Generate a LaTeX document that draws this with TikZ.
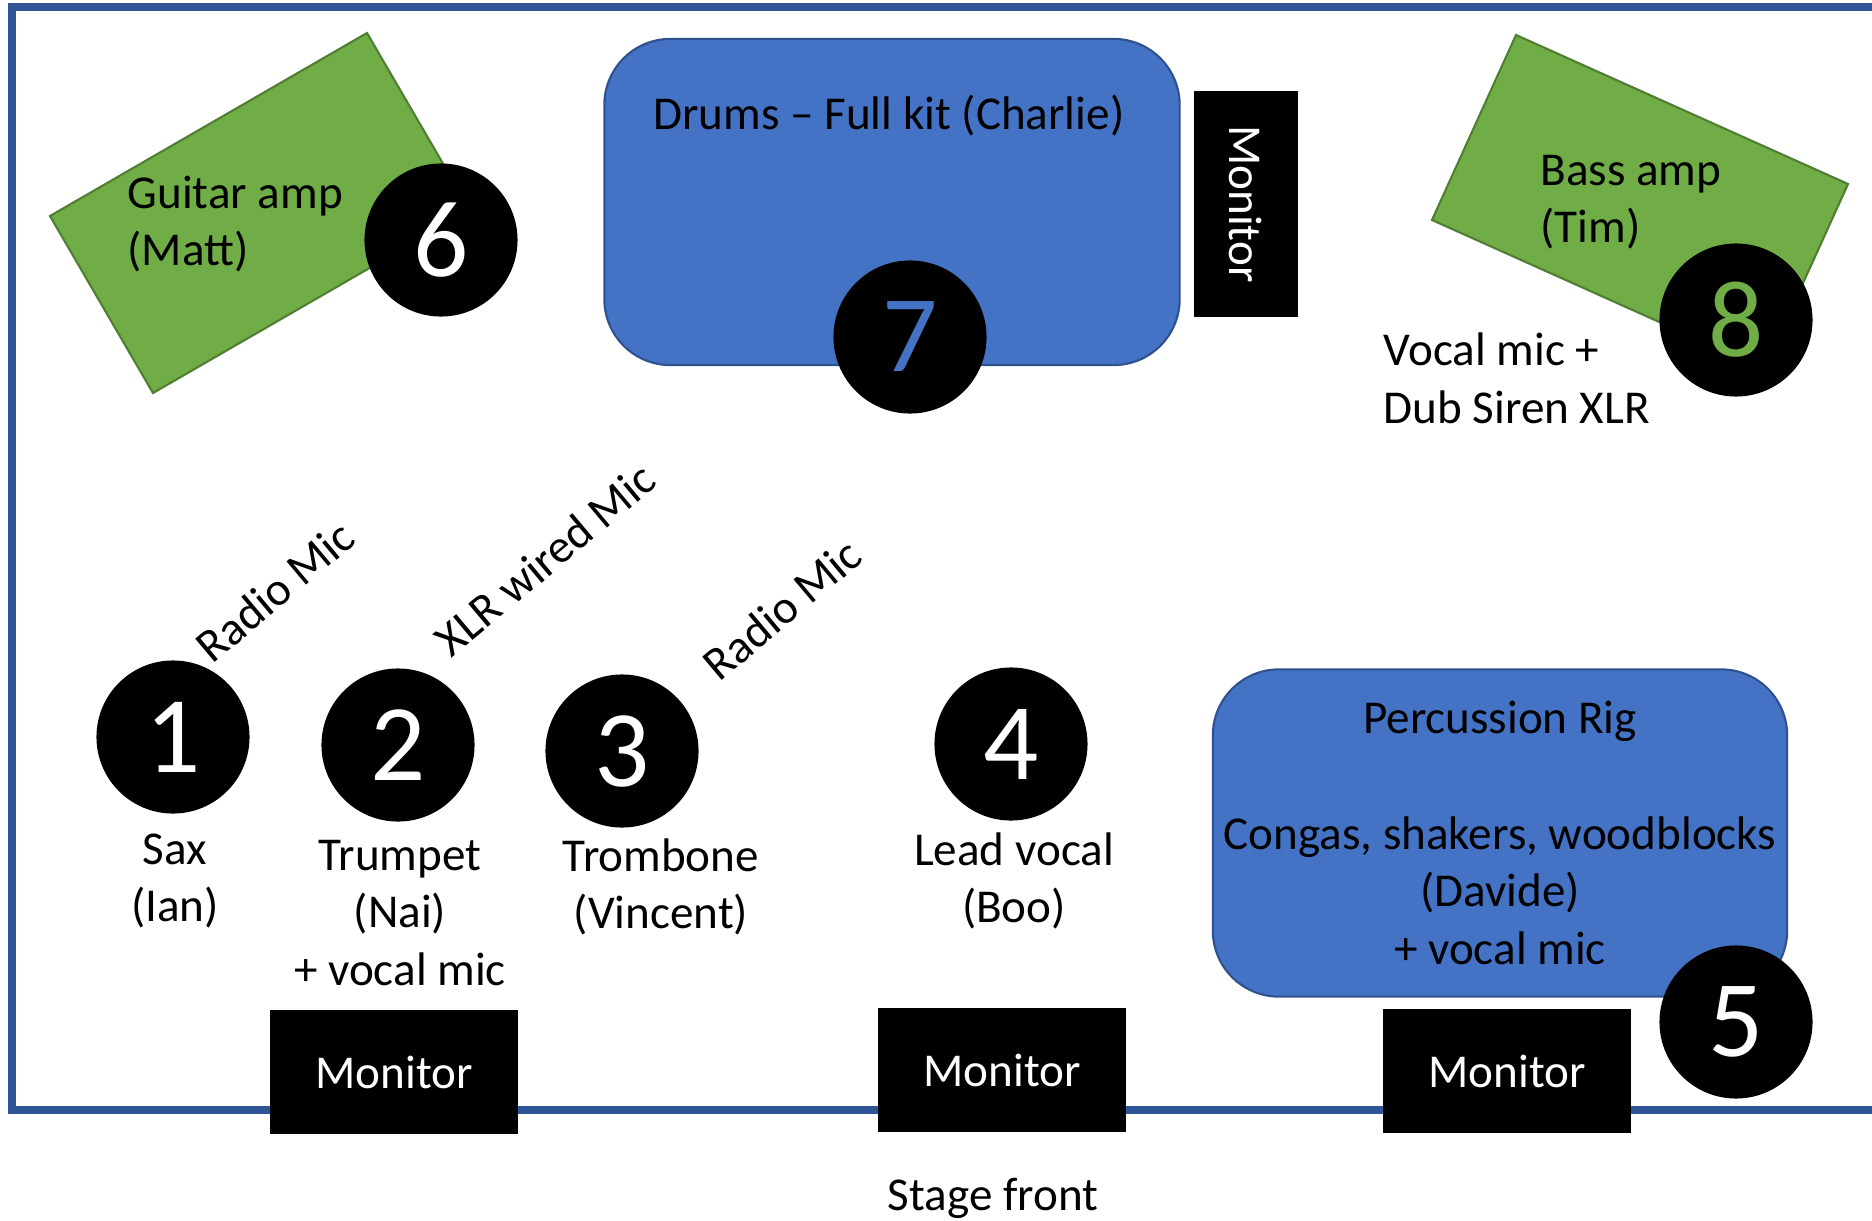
\documentclass[tikz,border=0pt]{standalone}
\usepackage{fontspec}
\setmainfont{Carlito}
\usetikzlibrary{positioning}
\definecolor{stageblue}{RGB}{47,85,151}
\definecolor{kitblue}{RGB}{68,114,196}
\definecolor{kitedge}{RGB}{47,82,143}
\definecolor{ampgreen}{RGB}{112,173,71}
\definecolor{ampedge}{RGB}{80,126,50}
\newcommand{\bigdigit}{\fontsize{31}{31}\selectfont}

\begin{document}
\begin{tikzpicture}[x=0.01cm, y=-0.01cm,
    every node/.style={font=\fontsize{13.4}{16.4}\selectfont, inner sep=0pt},
    chan/.style={circle, fill=black, minimum size=1.53cm, text=white, font=\bigdigit},
    amp/.style={fill=ampgreen, draw=ampedge, line width=0.6pt},
    kit/.style={fill=kitblue, draw=kitedge, line width=0.6pt, rounded corners=0.66cm},
    wedge/.style={fill=black, text=white, minimum width=2.47cm, minimum height=1.23cm},
    mic/.style={rotate=40},
]
\useasboundingbox (0,0) rectangle (1872,1221);
\clip (0,0) rectangle (1872,1221);

% stage outline, open towards the right
\draw[stageblue, line width=2.1pt] (12,7) rectangle (1920,1110);

% amps
\draw[amp] (367,33) -- (470,210) -- (153,393) -- (50,216) -- cycle;
\draw[amp] (1516,35) -- (1848,184) -- (1764,369) -- (1432,220) -- cycle;
\node (gtramp) [align=left, anchor=west] at (127,224) {Guitar amp\\(Matt)};
\node (bassamp) [align=left, anchor=west] at (1540,202) {Bass amp\\(Tim)};
\node (bassmic) [align=left, anchor=west] at (1383,378) {Vocal mic +\\Dub Siren XLR};

% drum riser and side fill
\node (drums) [kit, minimum width=5.75cm, minimum height=3.26cm] at (892,202) {};
\node (drumstxt) at (889,116) {Drums -- Full kit (Charlie)};
\node (sidemon) [wedge, minimum width=2.25cm, minimum height=1.03cm, rotate=-90] at (1246,204) {Monitor};

% percussion
\node (perc) [kit, minimum width=5.74cm, minimum height=3.27cm, align=center] at (1500,833)
    {Percussion Rig\\ \strut\\ Congas, shakers, woodblocks\\(Davide)\\+ vocal mic};

% channels
\node (c6) [chan] at (441,240) {6};
\node (c7) [chan, text=kitblue] at (910,337) {7};
\node (c8) [chan, text=ampgreen] at (1736,320) {8};
\node (c1) [chan] at (173,737) {1};
\node (c2) [chan] at (398,745) {2};
\node (c3) [chan] at (622,751) {3};
\node (c4) [chan] at (1011,744) {4};
\node (c5) [chan] at (1736,1022) {5};

\node (sax) [align=center] at (175,881) {Sax\\(Ian)};
\node (tpt) [align=center] at (400,913) {Trumpet\\(Nai)\\+ vocal mic};
\node (tbn) [align=center] at (661,887) {Trombone\\(Vincent)};
\node (lead) [align=center] at (1014,881) {Lead vocal\\(Boo)};

\node (mic1) [mic] at (275,591) {Radio Mic};
\node (mic2) [mic] at (545,559) {XLR wired Mic};
\node (mic3) [mic] at (782,609) {Radio Mic};

% wedges on the front edge
\node (mon1) [wedge] at (394,1072) {Monitor};
\node (mon2) [wedge] at (1002,1070) {Monitor};
\node (mon3) [wedge] at (1507,1071) {Monitor};

\node (front) at (993,1198) {Stage front};
\end{tikzpicture}
\end{document}
